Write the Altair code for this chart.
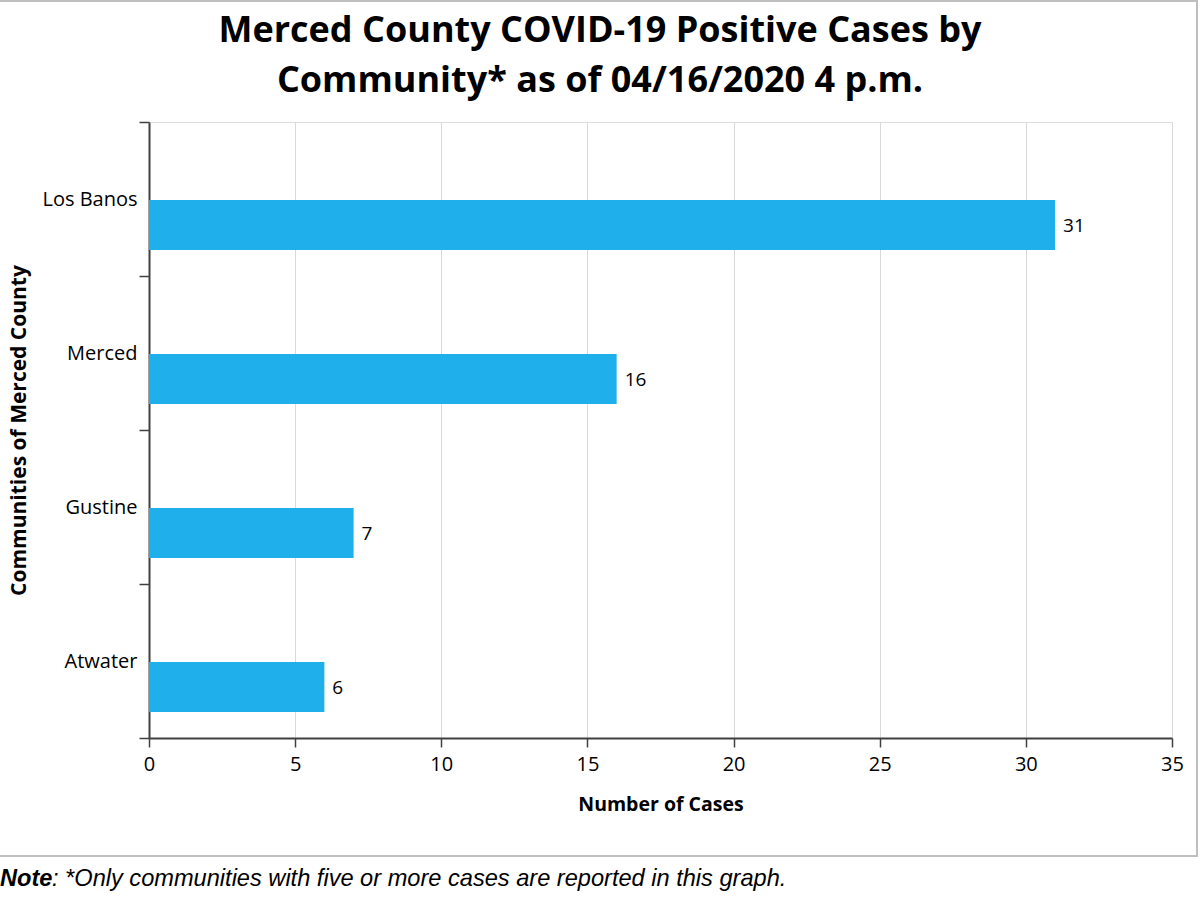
import altair as alt
import pandas as pd

# Reported communities (five or more cases) and their positive case counts
communities = ["Los Banos", "Merced", "Gustine", "Atwater"]
cases = [31, 16, 7, 6]
x_ticks = [0, 5, 10, 15, 20, 25, 30, 35]

title_lines = ["Merced County COVID-19 Positive Cases by", "Community* as of 04/16/2020 4 p.m."]
note_head = "Note"
note_body = ": *Only communities with five or more cases are reported in this graph."

df = pd.DataFrame({"community": communities, "cases": cases})

FONT = "Open Sans"
BAR = "#1fb0eb"
AXIS = "#404040"

W, H = 1023, 616
PAD_L, PAD_T, PAD_R, PAD_B = 149, 122, 28, 161

x_enc = alt.X(
    "cases:Q",
    scale=alt.Scale(domain=[0, 35], nice=False, zero=True),
    axis=alt.Axis(
        values=x_ticks,
        title="Number of Cases",
        grid=True,
        gridColor="#d9d9d9",
        gridWidth=1,
        domainColor=AXIS,
        domainWidth=2,
        tickColor=AXIS,
        tickWidth=1.5,
        tickSize=9,
        labelFont=FONT,
        labelFontSize=20,
        labelColor="#000000",
        labelPadding=7,
        labelFlush=False,
        titleFont=FONT,
        titleFontSize=19.5,
        titleFontWeight="bold",
        titleColor="#000000",
        titlePadding=21,
    ),
)

y_enc = alt.Y(
    "community:N",
    sort=communities,
    scale=alt.Scale(paddingInner=0, paddingOuter=0),
    axis=alt.Axis(
        title="Communities of Merced County",
        grid=False,
        tickBand="extent",
        domainColor=AXIS,
        domainWidth=2,
        tickColor=AXIS,
        tickWidth=1.5,
        tickSize=10,
        labelFont=FONT,
        labelFontSize=20,
        labelColor="#000000",
        labelAlign="right",
        labelPadding=2,
        titleFont=FONT,
        titleFontSize=21,
        titleFontWeight="bold",
        titleColor="#000000",
        titlePadding=12,
    ),
)

# Bars sit in the lower half of each category band, as in the original layout
bars = alt.Chart(df).mark_bar(color=BAR, size=50, yOffset=26).encode(x=x_enc, y=y_enc)

values = alt.Chart(df).mark_text(
    align="left", baseline="middle", dx=8, yOffset=27, font=FONT, fontSize=19, color="#000000"
).encode(x="cases:Q", y=alt.Y("community:N", sort=communities), text="cases:Q")

# Outer frame around the chart body
frame = alt.Chart(pd.DataFrame({"k": [0]})).mark_rect(
    fill=None, stroke="#bfbfbf", strokeWidth=2
).encode(
    x=alt.value(-150), x2=alt.value(1048), y=alt.value(-121), y2=alt.value(734)
)


def title_line(text, y):
    return alt.Chart(pd.DataFrame({"t": [text]})).mark_text(
        align="center", baseline="middle", font=FONT, fontSize=36,
        fontWeight="bold", color="#000000"
    ).encode(x=alt.value(451), y=alt.value(y), text="t:N")


title_a = title_line(title_lines[0], -91)
title_b = title_line(title_lines[1], -41)

note_a = alt.Chart(pd.DataFrame({"t": [note_head]})).mark_text(
    align="left", baseline="alphabetic", font="Liberation Sans", fontSize=23.6,
    fontStyle="italic", fontWeight="bold", color="#000000"
).encode(x=alt.value(-149), y=alt.value(764), text="t:N")

note_b = alt.Chart(pd.DataFrame({"t": [note_body]})).mark_text(
    align="left", baseline="alphabetic", font="Liberation Sans", fontSize=23.6,
    fontStyle="italic", color="#000000"
).encode(x=alt.value(-97), y=alt.value(764), text="t:N")

chart = alt.layer(frame, bars, values, title_a, title_b, note_a, note_b).properties(
    width=W,
    height=H,
    padding={"left": PAD_L, "top": PAD_T, "right": PAD_R, "bottom": PAD_B},
    autosize=alt.AutoSizeParams(type="none"),
).configure_view(
    stroke="#a6a6a6", strokeWidth=2
).configure(background="white")

chart.save("out.html", embed_options={"renderer": "svg", "actions": False})
